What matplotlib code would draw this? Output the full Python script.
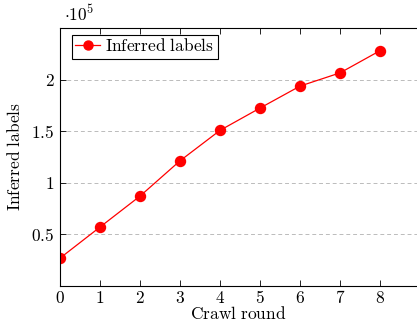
import numpy as np
import matplotlib
matplotlib.use('Agg')
import matplotlib.pyplot as plt
from matplotlib import rcParams

rcParams['mathtext.fontset'] = 'cm'
rcParams['font.family'] = 'serif'
rcParams['font.serif'] = ['DejaVu Serif']
rcParams['axes.unicode_minus'] = False

# Data
rounds = [0, 1, 2, 3, 4, 5, 6, 7, 8]
labels = [0.27, 0.571, 0.871, 1.213, 1.508, 1.724, 1.937, 2.065, 2.28]
labels = [v * 1e5 for v in labels]
y_ticks = [0.5, 1, 1.5, 2]
y_tick_text = ['0.5', '1', '1.5', '2']

fs = 12.5

fig = plt.figure(figsize=(4.17, 3.24), dpi=100)
ax = fig.add_axes([60 / 417, 1 - 286 / 324, 357 / 417, 258.5 / 324])

ax.plot(rounds, labels, '-o', color='red', lw=0.9, ms=7.2,
        label=r'$\mathrm{Inferred\ labels}$')

ax.set_xlim(0, 357 / 40)
ax.set_ylim(0, 258.5 / 103.2 * 1e5)
ax.set_xticks(rounds)
ax.set_xticklabels([r'$%d$' % r for r in rounds])
ax.set_yticks([v * 1e5 for v in y_ticks])
ax.set_yticklabels([r'$%s$' % t for t in y_tick_text])
ax.tick_params(direction='in', top=True, right=False, length=4,
               width=0.6, labelsize=fs, pad=4)
ax.tick_params(axis='x', pad=3)
ax.grid(axis='y', ls=(0, (4, 3)), color='#bbbbbb', lw=0.7)
ax.set_axisbelow(True)
for s in ['left', 'bottom', 'top']:
    ax.spines[s].set_linewidth(0.8)
ax.spines['right'].set_visible(False)

ax.set_xlabel(r'$\mathrm{Crawl\ round}$', fontsize=fs, labelpad=-1)
ax.set_ylabel(r'$\mathrm{Inferred\ labels}$', fontsize=fs, labelpad=5)
fig.text(64 / 417, 1 - 15 / 324, r'$\cdot 10^5$', fontsize=fs, va='center')

leg = ax.legend(loc='upper left', fontsize=fs, fancybox=False,
                edgecolor='black', framealpha=1, borderpad=0.2,
                handlelength=1.45, handletextpad=0.3, markerscale=0.9,
                bbox_to_anchor=(71.5 / 417, 1 - 35 / 324),
                bbox_transform=fig.transFigure, borderaxespad=0)
leg.get_frame().set_linewidth(0.8)

plt.savefig('out.png', dpi=100)
